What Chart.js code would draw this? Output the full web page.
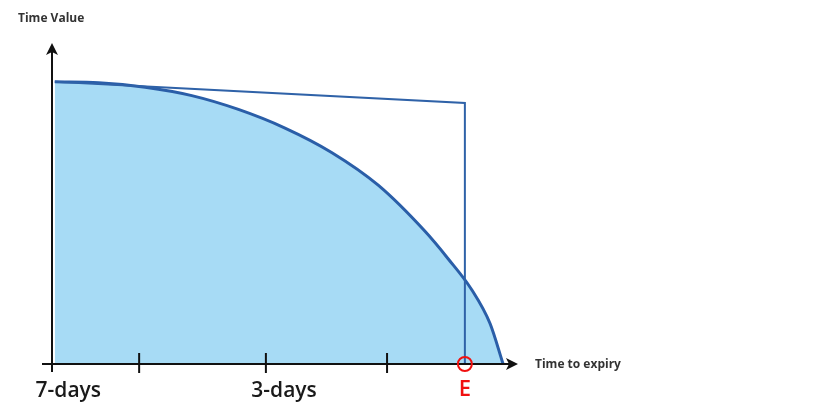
<!DOCTYPE html>
<html>
<head>
<meta charset="utf-8">
<script src="https://cdn.jsdelivr.net/npm/chart.js@4"></script>
<style>
  html, body { margin: 0; padding: 0; background: #fff; }
  #wrap { width: 814px; height: 413px; position: relative; }
</style>
</head>
<body>
<div id="wrap"><canvas id="chart"></canvas></div>
<script>
// Time value decay curve (x = time elapsed, y = time value, arbitrary units 0-100)
const curveX = [0.6, 10, 20, 30, 40, 50, 60, 70, 80, 85, 90, 94, 96.8];
const curveY = [87.9, 87.6, 86.2, 83.6, 79.3, 73.5, 65.9, 55.7, 41.4, 32.8, 23.3, 12.6, 0];

// straight line to expiry point E, then down to the axis
const expiryX = [0.6, 88.6, 88.6];
const expiryY = [87.9, 81.3, 0];

// tick marks on the time axis and their labels
const tickX = [18.7, 45.9, 71.9];
const tickLabels = ['7-days', '3-days'];
const tickLabelX = [3.5, 49.8];

const markerLabel = 'E';
const yTitle = 'Time Value';
const xTitle = 'Time to expiry';

const toPoints = (xs, ys) => xs.map((x, i) => ({ x: x, y: ys[i] }));

// Axes with arrows, ticks, labels and the E marker
const axesPlugin = {
    id: 'axes',
    afterDatasetsDraw(chart) {
        const ctx = chart.ctx;
        const xs = chart.scales.x;
        const ys = chart.scales.y;
        const x0 = xs.getPixelForValue(0);
        const y0 = ys.getPixelForValue(0);
        const xEnd = xs.getPixelForValue(100);
        const yTop = ys.getPixelForValue(100);

        ctx.save();
        ctx.strokeStyle = '#111';
        ctx.fillStyle = '#111';
        ctx.lineWidth = 2;

        // y axis
        ctx.beginPath();
        ctx.moveTo(x0, y0 + 8);
        ctx.lineTo(x0, yTop + 8);
        ctx.stroke();
        ctx.beginPath();
        ctx.moveTo(x0, yTop);
        ctx.lineTo(x0 - 6, yTop + 12);
        ctx.lineTo(x0, yTop + 9);
        ctx.lineTo(x0 + 6, yTop + 12);
        ctx.closePath();
        ctx.fill();

        // x axis
        ctx.beginPath();
        ctx.moveTo(x0 - 10, y0);
        ctx.lineTo(xEnd - 8, y0);
        ctx.stroke();
        ctx.beginPath();
        ctx.moveTo(xEnd, y0);
        ctx.lineTo(xEnd - 12, y0 - 6);
        ctx.lineTo(xEnd - 9, y0);
        ctx.lineTo(xEnd - 12, y0 + 6);
        ctx.closePath();
        ctx.fill();

        // ticks
        tickX.forEach(v => {
            const px = xs.getPixelForValue(v);
            ctx.beginPath();
            ctx.moveTo(px, y0 - 11);
            ctx.lineTo(px, y0 + 9);
            ctx.stroke();
        });

        // tick labels
        ctx.fillStyle = '#1a1a1a';
        ctx.font = '600 21px "Open Sans", sans-serif';
        ctx.textAlign = 'center';
        ctx.textBaseline = 'alphabetic';
        tickLabels.forEach((t, i) => {
            ctx.fillText(t, xs.getPixelForValue(tickLabelX[i]), y0 + 33);
        });

        // axis titles
        ctx.fillStyle = '#333';
        ctx.font = 'bold 12px "Open Sans", sans-serif';
        ctx.textAlign = 'left';
        ctx.textBaseline = 'middle';
        ctx.fillText(yTitle, x0 - 34, yTop - 24);
        ctx.fillText(xTitle, xEnd + 17, y0 + 1);

        // expiry marker E
        const ex = xs.getPixelForValue(expiryX[2]);
        const ey = ys.getPixelForValue(expiryY[2]);
        ctx.strokeStyle = '#f01010';
        ctx.lineWidth = 2;
        ctx.beginPath();
        ctx.arc(ex, ey, 7, 0, Math.PI * 2);
        ctx.stroke();
        ctx.fillStyle = '#f01010';
        ctx.font = '600 22px "Open Sans", sans-serif';
        ctx.textAlign = 'center';
        ctx.textBaseline = 'alphabetic';
        ctx.fillText(markerLabel, ex, ey + 32);
        ctx.restore();
    }
};

const chart = new Chart(document.getElementById('chart').getContext('2d'), {
    type: 'line',
    data: {
        datasets: [
            {
                label: 'Expiry',
                data: toPoints(expiryX, expiryY),
                borderColor: '#2f62a8',
                borderWidth: 2,
                tension: 0,
                fill: false,
                pointRadius: 0,
                clip: false,
                order: 0
            },
            {
                label: 'Time value',
                data: toPoints(curveX, curveY),
                borderColor: '#2a5ea8',
                backgroundColor: '#a7dbf5',
                borderWidth: 3,
                cubicInterpolationMode: 'monotone',
                fill: 'origin',
                pointRadius: 0,
                clip: false,
                order: 1
            }
        ]
    },
    options: {
        responsive: true,
        maintainAspectRatio: false,
        animation: false,
        layout: { padding: { left: 52, right: 296, top: 43, bottom: 49 } },
        plugins: { legend: { display: false }, tooltip: { enabled: false } },
        scales: {
            x: { type: 'linear', min: 0, max: 100, display: false },
            y: { type: 'linear', min: 0, max: 100, display: false }
        }
    },
    plugins: [axesPlugin]
});
</script>
</body>
</html>
